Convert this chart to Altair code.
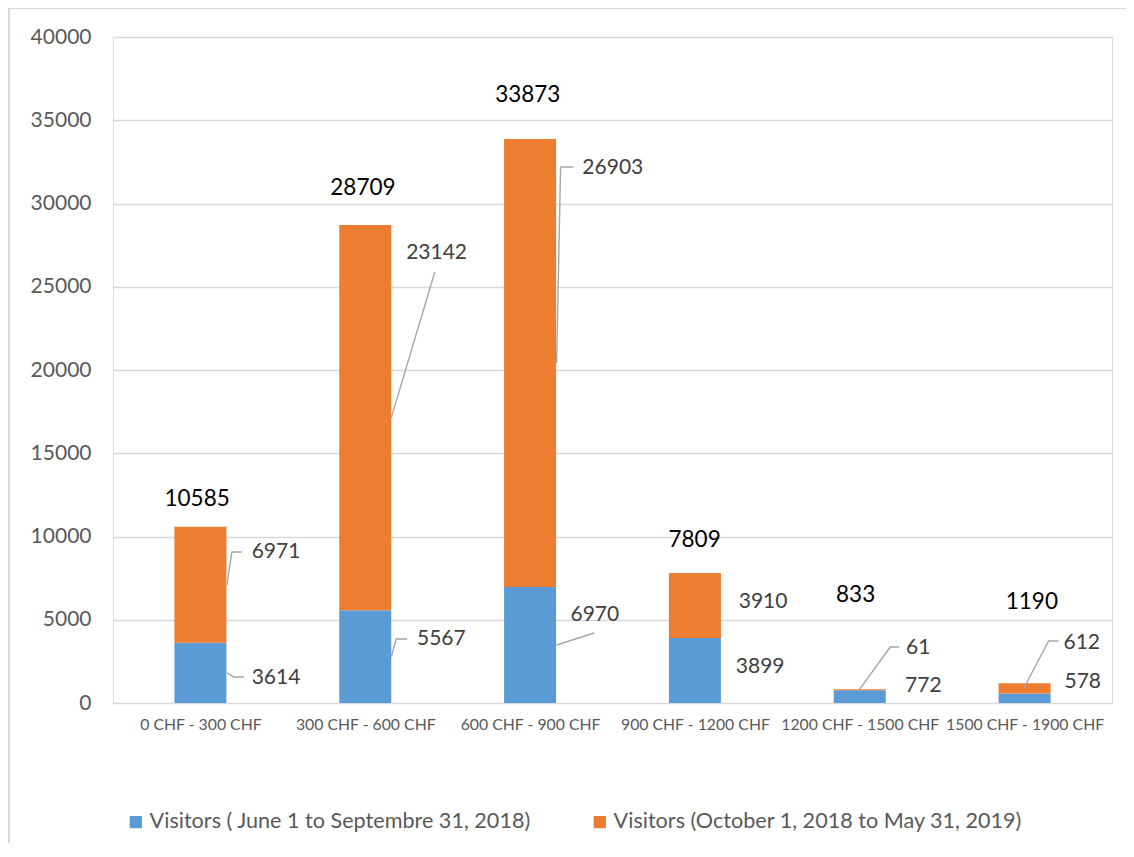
import altair as alt
import pandas as pd

# ---- data ----
categories = ["0 CHF - 300 CHF", "300 CHF - 600 CHF", "600 CHF - 900 CHF",
              "900 CHF - 1200 CHF", "1200 CHF - 1500 CHF", "1500 CHF - 1900 CHF"]
series = ["Visitors ( June 1 to Septembre 31, 2018)",
          "Visitors (October 1, 2018 to May 31, 2019)"]
summer = [3614, 5567, 6970, 3899, 772, 578]
winter = [6971, 23142, 26903, 3910, 61, 612]
totals = [10585, 28709, 33873, 7809, 833, 1190]

# ---- label placement (data units: x in category units, y in visitors) ----
summer_lab_x = [0.811, 1.814, 2.745, 3.748, 4.775, 5.742]
summer_lab_y = [1502, 3844, 5285, 2162, 1021, 1261]
winter_lab_x = [0.811, 1.748, 2.817, 3.766, 4.781, 5.736]
winter_lab_y = [9069, 27027, 32132, 6066, 3303, 3604]
total_lab_x = [0.480, 1.486, 2.486, 3.498, 4.475, 5.544]
total_lab_y = [12252, 30931, 36516, 9790, 6486, 6066]

# leader lines: list of (id, [(x, y), ...])
leaders = [
    ("c0w", [(0.661, 7099), (0.691, 9069), (0.751, 9069)]),
    ("c0s", [(0.661, 1807), (0.703, 1562), (0.763, 1562)]),
    ("c1w", [(1.658, 17138), (1.922, 25886)]),
    ("c1s", [(1.658, 2784), (1.688, 3844), (1.754, 3844)]),
    ("c2w", [(2.661, 20422), (2.685, 32192), (2.763, 32192)]),
    ("c2s", [(2.661, 3485), (2.889, 4204)]),
    ("c4w", [(4.498, 802), (4.685, 3363), (4.739, 3363)]),
    ("c5w", [(5.495, 884), (5.646, 3724), (5.706, 3724)]),
]

BLUE = "#5B9BD5"
ORANGE = "#ED7D31"
FONT = "Lato"
W, H = 999, 666

bars = []
for i, c in enumerate(categories):
    bars.append({"pos": i + 0.5, "cat": c, "series": series[0],
                 "y0": 0, "y1": summer[i]})
    bars.append({"pos": i + 0.5, "cat": c, "series": series[1],
                 "y0": summer[i], "y1": summer[i] + winter[i]})
bars_df = pd.DataFrame(bars)

seg_labels = []
for i in range(len(categories)):
    seg_labels.append({"x": summer_lab_x[i], "y": summer_lab_y[i], "t": str(summer[i])})
    seg_labels.append({"x": winter_lab_x[i], "y": winter_lab_y[i], "t": str(winter[i])})
seg_df = pd.DataFrame(seg_labels)

tot_df = pd.DataFrame({"x": total_lab_x, "y": total_lab_y, "t": [str(t) for t in totals]})

lead_rows = []
for lid, pts in leaders:
    for k, (lx, ly) in enumerate(pts):
        lead_rows.append({"id": lid, "k": k, "x": lx, "y": ly})
lead_df = pd.DataFrame(lead_rows)

label_expr = "[" + ",".join("'" + c + "'" for c in categories) + "][round(datum.value - 0.5)]"

x_scale = alt.Scale(domain=[0, 6], nice=False, zero=False)
y_scale = alt.Scale(domain=[0, 40000], nice=False)

bar_layer = alt.Chart(bars_df).mark_bar(size=52).encode(
    x=alt.X("pos:Q", scale=x_scale,
            axis=alt.Axis(values=[i + 0.5 for i in range(6)], labelExpr=label_expr,
                          grid=False, ticks=False, domain=False, title=None,
                          labelFontSize=15.8, labelColor="#595959", labelFont=FONT,
                          labelPadding=14, labelOverlap=False)),
    y=alt.Y("y0:Q", scale=y_scale,
            axis=alt.Axis(values=list(range(0, 40001, 5000)), format="d", title=None,
                          ticks=False, domain=False, grid=True, gridColor="#d9d9d9",
                          gridWidth=1.4, labelFontSize=21, labelColor="#595959",
                          labelFont=FONT, labelPadding=22)),
    y2="y1:Q",
    color=alt.Color("series:N",
                    scale=alt.Scale(domain=series, range=[BLUE, ORANGE]),
                    legend=alt.Legend(title=None, orient="none", direction="horizontal",
                                      legendX=12, legendY=774, symbolType="square",
                                      symbolSize=150, symbolStrokeWidth=0,
                                      labelFontSize=21.6, labelFont=FONT,
                                      labelColor="#595959", labelOffset=3,
                                      labelLimit=0, columnPadding=58)),
)

lead_layer = alt.Chart(lead_df).mark_line(color="#a6a6a6", strokeWidth=1.4).encode(
    x=alt.X("x:Q", scale=x_scale),
    y=alt.Y("y:Q", scale=y_scale),
    detail="id:N",
    order="k:Q",
)

seg_layer = alt.Chart(seg_df).mark_text(align="left", baseline="middle", fontSize=21,
                                        font=FONT, color="#404040").encode(
    x=alt.X("x:Q", scale=x_scale),
    y=alt.Y("y:Q", scale=y_scale),
    text="t:N",
)

tot_layer = alt.Chart(tot_df).mark_text(align="center", baseline="middle", fontSize=22.5,
                                        font=FONT, color="#000000").encode(
    x=alt.X("x:Q", scale=x_scale),
    y=alt.Y("y:Q", scale=y_scale),
    text="t:N",
)

# outer chart border (left and top edges)
border_left = alt.Chart(pd.DataFrame({"a": [0]})).mark_rule(color="#d9d9d9", strokeWidth=2).encode(
    x=alt.value(-104), y=alt.value(-29), y2=alt.value(H + 150))
border_top = alt.Chart(pd.DataFrame({"a": [0]})).mark_rule(color="#d9d9d9", strokeWidth=2).encode(
    x=alt.value(-105), x2=alt.value(W + 30), y=alt.value(-29))

chart = alt.layer(bar_layer, lead_layer, seg_layer, tot_layer, border_left, border_top).properties(
    width=W, height=H,
    autosize=alt.AutoSizeParams(type="none"),
    padding={"left": 105, "top": 29, "right": 14, "bottom": 140},
).configure_view(stroke=None).configure(background="white")

chart.save("out.html", embed_options={"renderer": "svg", "actions": False})
